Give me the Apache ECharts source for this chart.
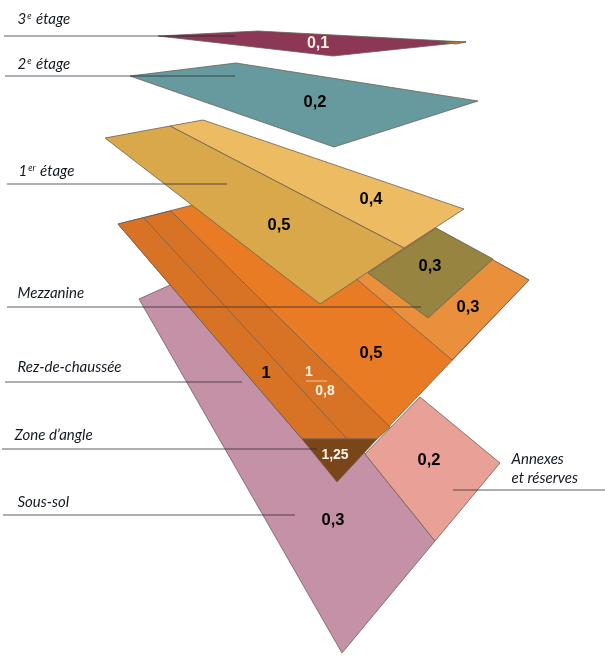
<!DOCTYPE html>
<html>
<head>
<meta charset="utf-8">
<style>html,body{margin:0;padding:0;background:#fff}#chart{width:605px;height:656px}</style>
<script src="https://cdn.jsdelivr.net/npm/echarts@6/dist/echarts.min.js"></script>
</head>
<body>
<div id="chart"></div>
<script>
// floor plates, outline points, back to front
const sousSol = [[139,299],[190,276],[365,454],[435,541],[342,653]];
const annexes = [[420,397],[500,463],[435,541],[365,454]];
const rezBase = [[118,224],[330,170],[529,280],[377,439],[302,439]];
const rezLight = [[340,265],[414,216],[529,280],[452,360]];
const rezDark = [[118,224],[171,211],[390,427],[377,439],[302,439]];
const rezDivider = [[144,218],[347,439]];
const angle = [[302,439],[377,439],[337,482]];
const mezzanine = [[436,228],[493,259],[428,318],[368,273]];
const premierBack = [[170,126],[203,120],[464,209],[404,248]];
const premierFront = [[105,138],[170,126],[404,248],[320,304]];
const deuxieme = [[130,76],[236,63],[478,101],[334,147]];
const troisieme = [[158,36],[258,31],[466,42],[333,56]];
const troisiemeTip = [[440,42],[466,42],[456,44]];
const fraction = [[306,381],[327,381]];

const plates = [
  [sousSol, '#c491a6'], [annexes, '#e9a097'], [rezBase, '#e87b24'], [rezLight, '#ea903c'],
  [rezDark, '#d87325'], [rezDivider, '#d87325'], [angle, '#7a4518'], [mezzanine, '#978441'],
  [premierBack, '#ecbb62'], [premierFront, '#d8a84a'], [deuxieme, '#669a9f'],
  [troisieme, '#8c3755'], [troisiemeTip, '#e8892c']
];

// leader lines
const leaders = [
  [[4,36],[235,36]], [[5,76],[235,76]], [[7,184],[227,184]], [[7,307],[421,307]],
  [[5,382],[242,382]], [[2,449],[317,449]], [[3,515],[295,515]], [[453,490],[605,490]]
];

const floorNames = [
  [17,19,'{n|3}{s|e}{n| étage}'], [17,64,'{n|2}{s|e}{n| étage}'], [18,171,'{n|1}{s|er}{n| étage}'],
  [17,293,'{n|Mezzanine}'], [17,367,'{n|Rez-de-chaussée}'], [14,435,'{n|Zone d’angle}'],
  [17,502,'{n|Sous-sol}'], [511,459,'{n|Annexes}'], [511,478,'{n|et réserves}']
];

const blackValues = [
  [315,102,'0,2'], [371,199,'0,4'], [279,225,'0,5'], [430,266,'0,3'], [468,307,'0,3'],
  [371,353,'0,5'], [266,373,'1'], [429,460,'0,2'], [333,520,'0,3']
];
const whiteValues = [
  [318,44,'0,1'], [309,372,'1'], [325,391,'0,8'], [335,455,'1,25']
];

function polygonItem(params, api) {
  const plate = plates[params.dataIndex];
  const pts = plate[0].map(p => api.coord(p));
  return {
    type: 'polyline',
    shape: { points: pts.length > 2 ? pts.concat([pts[0]]) : pts },
    style: { fill: pts.length > 2 ? plate[1] : 'none', stroke: '#6b5f55', lineWidth: 0.8 }
  };
}

function leaderItem(params, api) {
  const l = leaders[params.dataIndex];
  const a = api.coord(l[0]), b = api.coord(l[1]);
  return {
    type: 'line',
    shape: { x1: a[0], y1: a[1], x2: b[0], y2: b[1] },
    style: { stroke: 'rgba(35,35,45,0.72)', lineWidth: 1.2 }
  };
}

function fractionItem(params, api) {
  const a = api.coord(fraction[0]), b = api.coord(fraction[1]);
  return {
    type: 'line',
    shape: { x1: a[0], y1: a[1], x2: b[0], y2: b[1] },
    style: { stroke: '#f0c79a', lineWidth: 1 }
  };
}

function textSeries(data, label, z) {
  return {
    type: 'scatter', data: data, symbolSize: 1, z: z, silent: true,
    itemStyle: { color: 'transparent', opacity: 1 },
    label: Object.assign({ show: true, opacity: 1, formatter: p => p.value[2] }, label)
  };
}

const chart = echarts.init(document.getElementById('chart'));
chart.setOption({
  animation: false,
  backgroundColor: '#fff',
  grid: { left: 0, right: 0, top: 0, bottom: 0 },
  xAxis: { type: 'value', min: 0, max: 605, show: false },
  yAxis: { type: 'value', min: 0, max: 656, inverse: true, show: false },
  series: [
    { type: 'custom', renderItem: polygonItem, data: plates.map((p, i) => [i]), z: 2, silent: true, clip: false },
    { type: 'custom', renderItem: leaderItem, data: leaders.map((l, i) => [i]), z: 3, silent: true },
    { type: 'custom', renderItem: fractionItem, data: [[0]], z: 3, silent: true },
    textSeries(floorNames, {
      position: 'right', distance: 0,
      rich: {
        n: { fontFamily: 'Lato', fontStyle: 'italic', fontSize: 15, color: '#141a22' },
        s: { fontFamily: 'Lato', fontStyle: 'italic', fontSize: 9, color: '#141a22', verticalAlign: 'top', padding: [0, 1, 0, 1] }
      }
    }, 4),
    textSeries(blackValues, { position: 'inside', fontFamily: 'Liberation Sans', fontWeight: 'bold', fontSize: 16.5, color: '#000' }, 4),
    textSeries(whiteValues.slice(0, 1), { position: 'inside', fontFamily: 'Liberation Sans', fontWeight: 'bold', fontSize: 16, color: '#fbeee0' }, 4),
    textSeries(whiteValues.slice(1), { position: 'inside', fontFamily: 'Liberation Sans', fontWeight: 'bold', fontSize: 14, color: '#fff4e6' }, 4)
  ]
});
</script>
</body>
</html>
